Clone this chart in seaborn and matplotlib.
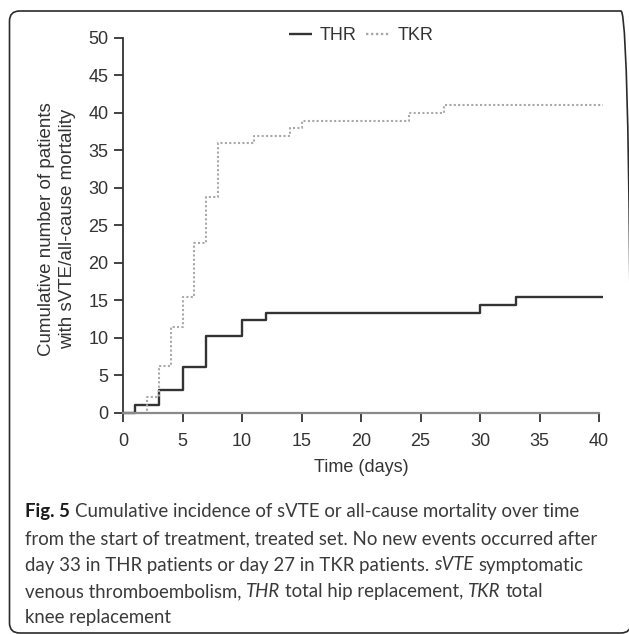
import numpy as np
import pandas as pd
import matplotlib
matplotlib.use("Agg")
import matplotlib.pyplot as plt
import seaborn as sns
from matplotlib.patches import FancyBboxPatch

# ---- data ----
thr_days = [0, 1, 3, 5, 7, 10, 12, 30, 33, 40.3]
thr_count = [0, 1.0, 3.0, 6.1, 10.2, 12.3, 13.3, 14.3, 15.4, 15.4]
tkr_days = [0, 2, 3, 4, 5, 6, 7, 8, 11, 14, 15, 24, 27, 40.3]
tkr_count = [0, 2.1, 6.2, 11.4, 15.4, 22.6, 28.7, 35.9, 36.9, 37.9, 38.9, 40.0, 41.0, 41.0]
groups = ["THR", "TKR"]
x_ticks = [0, 5, 10, 15, 20, 25, 30, 35, 40]
y_ticks = [0, 5, 10, 15, 20, 25, 30, 35, 40, 45, 50]

df = pd.concat([
    pd.DataFrame({"day": thr_days, "count": thr_count, "group": "THR"}),
    pd.DataFrame({"day": tkr_days, "count": tkr_count, "group": "TKR"}),
], ignore_index=True)

sns.set_theme(style="ticks")
plt.rcParams["font.family"] = ["Liberation Sans", "DejaVu Sans"]

W, H = 629, 634
fig = plt.figure(figsize=(W / 100, H / 100), dpi=100)
ax = fig.add_axes([123 / W, 1 - 412.5 / H, 476 / W, 374.8 / H])

dark = "#333333"
grey = "#a8a8a8"
FS = 13
sns.lineplot(data=df, x="day", y="count", hue="group", style="group",
             hue_order=groups, style_order=groups,
             palette={"THR": dark, "TKR": grey},
             dashes={"THR": "", "TKR": (1, 1.1)},
             estimator=None, sort=True, drawstyle="steps-post",
             linewidth=1.7, ax=ax, legend=True)
for ln in ax.lines:
    ln.set_clip_on(False)
    ln.set_solid_capstyle("butt")
ax.lines[1].set_linewidth(1.5)

ax.set_xlim(0, 40)
ax.set_ylim(0, 50)
ax.set_xticks(x_ticks)
ax.set_yticks(y_ticks)
ax.set_xticklabels([str(v) for v in x_ticks])
ax.set_yticklabels([str(v) for v in y_ticks])
ax.tick_params(axis="both", direction="out", length=6.5, width=1.3,
               color=dark, labelsize=FS, labelcolor=dark)
ax.tick_params(axis="x", pad=8)
ax.tick_params(axis="y", pad=4)
for s in ["top", "right"]:
    ax.spines[s].set_visible(False)
ax.spines["left"].set_color(dark)
ax.spines["left"].set_linewidth(1.3)
ax.spines["bottom"].set_color("#8a8a8a")
ax.spines["bottom"].set_linewidth(1.6)

ax.set_xlabel("Time (days)", fontsize=FS, color=dark, labelpad=7)
ax.set_ylabel("Cumulative number of patients\nwith sVTE/all-cause mortality",
              fontsize=13.5, color=dark, linespacing=1.3)
ax.yaxis.set_label_coords(-0.099, 0.49)

handles, labels = ax.get_legend_handles_labels()
leg = ax.legend(handles, labels, loc="center", bbox_to_anchor=(0.5, 1.005),
                ncol=2, frameon=False, fontsize=FS, handlelength=1.25,
                handletextpad=0.45, columnspacing=0.55, borderaxespad=0)
for t in leg.get_texts():
    t.set_color(dark)

# ---- border box ----
box = FancyBboxPatch((9.5 / W, 1 / H), (631 - 9.5) / W, (623 - 1) / H,
                     boxstyle="round,pad=0,rounding_size=0.016",
                     transform=fig.transFigure, facecolor="none",
                     edgecolor="#2b2b2b", linewidth=1.2, clip_on=False)
fig.patches.append(box)

# ---- caption ----
cap_font = ["Lato", "DejaVu Sans"]
renderer = fig.canvas.get_renderer()


def text_width(s, size, weight="normal", style="normal"):
    t = fig.text(0, 0, s, fontsize=size, family=cap_font, weight=weight, style=style)
    w = t.get_window_extent(renderer).width
    t.remove()
    return w


target = 601 - 25
ref_line = "from the start of treatment, treated set. No new events occurred after"
size = 10 * target / text_width(ref_line, 10)

lines = [
    [("Fig. 5", "bold", "normal"), (" Cumulative incidence of sVTE or all-cause mortality over time", "normal", "normal")],
    [(ref_line, "normal", "normal")],
    [("day 33 in THR patients or day 27 in TKR patients. ", "normal", "normal"), ("sVTE", "normal", "italic"), (" symptomatic", "normal", "normal")],
    [("venous thromboembolism, ", "normal", "normal"), ("THR", "normal", "italic"), (" total hip replacement, ", "normal", "normal"), ("TKR", "normal", "italic"), (" total", "normal", "normal")],
    [("knee replacement", "normal", "normal")],
]
baselines = [517.5, 544, 570.5, 597, 623.5]
space_w = text_width("a a", size) - text_width("aa", size)

for runs, by in zip(lines, baselines):
    x = 25.0
    for s, wt, st in runs:
        lead = len(s) - len(s.lstrip(" "))
        trail = len(s) - len(s.rstrip(" "))
        core = s.strip(" ")
        x += lead * space_w
        col = "#1a1a1a" if wt == "bold" else "#3a3a3a"
        fig.text(x / W, 1 - by / H, core, fontsize=size, family=cap_font,
                 weight=wt, style=st, color=col, va="baseline", ha="left")
        x += text_width(core, size, wt, st) + trail * space_w

fig.savefig("out.png", dpi=100)
